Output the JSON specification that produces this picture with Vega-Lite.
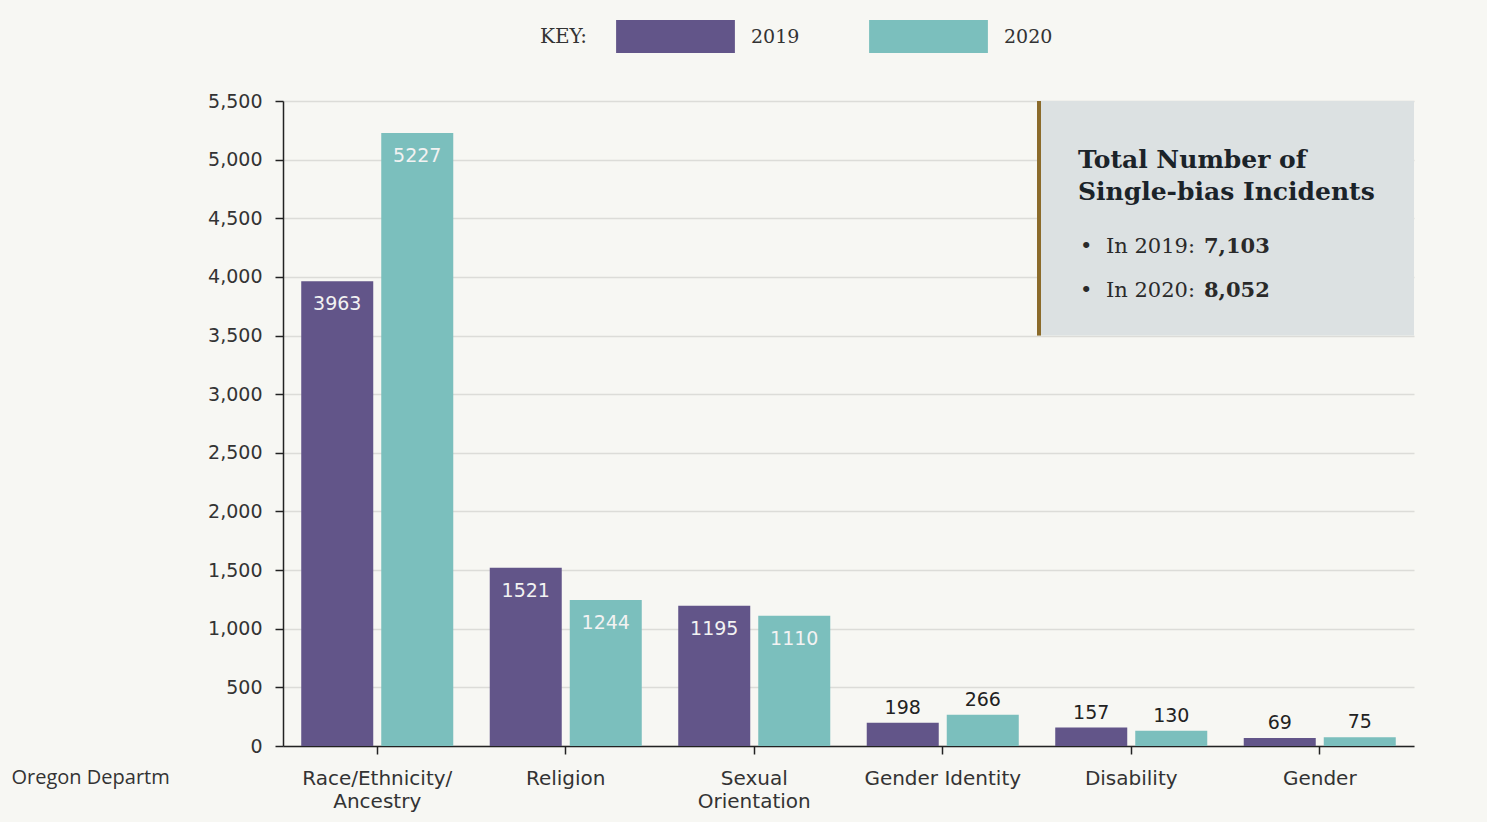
{
  "$schema": "https://vega.github.io/schema/vega-lite/v6.json",
  "width": 1131,
  "height": 645,
  "autosize": {"type": "none"},
  "padding": {"left": 283, "top": 101, "right": 73, "bottom": 76},
  "background": "#f7f7f3",
  "config": {"view": {"stroke": null}, "font": "DejaVu Sans"},
  "datasets": {
    "bars": [
      {"category": "Race/Ethnicity/ Ancestry", "year": "2019", "value": 3963},
      {"category": "Race/Ethnicity/ Ancestry", "year": "2020", "value": 5227},
      {"category": "Religion", "year": "2019", "value": 1521},
      {"category": "Religion", "year": "2020", "value": 1244},
      {"category": "Sexual Orientation", "year": "2019", "value": 1195},
      {"category": "Sexual Orientation", "year": "2020", "value": 1110},
      {"category": "Gender Identity", "year": "2019", "value": 198},
      {"category": "Gender Identity", "year": "2020", "value": 266},
      {"category": "Disability", "year": "2019", "value": 157},
      {"category": "Disability", "year": "2020", "value": 130},
      {"category": "Gender", "year": "2019", "value": 69},
      {"category": "Gender", "year": "2020", "value": 75}
    ],
    "box": [
      {"x1": "Disability", "x2": "Gender", "y1": 3500, "y2": 5500}
    ]
  },
  "layer": [
    {
      "data": {"name": "bars"},
      "mark": {"type": "bar"},
      "encoding": {
        "x": {
          "field": "category", "type": "nominal", "sort": null,
          "scale": {"domain": ["Race/Ethnicity/ Ancestry", "Religion", "Sexual Orientation", "Gender Identity", "Disability", "Gender"], "paddingInner": 0, "paddingOuter": 0},
          "axis": {
            "title": null, "labelAngle": 0, "grid": false,
            "domainColor": "#222", "domainWidth": 1.5, "tickColor": "#222", "tickWidth": 1.5, "tickSize": 8,
            "labelFontSize": 20, "labelColor": "#333", "labelPadding": 14, "labelLineHeight": 23,
            "labelExpr": "datum.label == 'Race/Ethnicity/ Ancestry' ? ['Race/Ethnicity/', 'Ancestry'] : datum.label == 'Sexual Orientation' ? ['Sexual', 'Orientation'] : datum.label"
          }
        },
        "xOffset": {"field": "year", "type": "nominal", "scale": {"paddingInner": 0.1, "paddingOuter": 0.228}},
        "y": {
          "field": "value", "type": "quantitative",
          "scale": {"domain": [0, 5500], "nice": false},
          "axis": {
            "values": [0, 500, 1000, 1500, 2000, 2500, 3000, 3500, 4000, 4500, 5000, 5500],
            "labelExpr": "format(datum.value, ',')", "grid": true, "gridColor": "#dcdcd8", "gridWidth": 1.5,
            "domainColor": "#222", "domainWidth": 1.5, "tickColor": "#222", "tickWidth": 1.5, "tickSize": 8,
            "labelFontSize": 19, "labelColor": "#333", "labelPadding": 13,
            "title": "Oregon Departm", "titleAngle": 0, "titleAlign": "left", "titleBaseline": "middle",
            "titleX": -272, "titleY": 676, "titleFont": "Open Sans", "titleFontSize": 20, "titleFontWeight": "normal", "titleColor": "#333"
          }
        },
        "color": {
          "field": "year", "type": "nominal",
          "scale": {"domain": ["2019", "2020"], "range": ["#625589", "#7bbfbd"]},
          "legend": {
            "orient": "none", "legendX": 257, "legendY": -81, "direction": "horizontal",
            "title": "KEY:", "titleOrient": "left", "titleFont": "DejaVu Serif", "titleFontSize": 20,
            "titleFontWeight": "normal", "titleColor": "#333", "titlePadding": 71, "titleBaseline": "middle",
            "symbolType": "M-3.6,-1H3.6V1H-3.6Z", "symbolSize": 1089, "symbolStrokeWidth": 0, "symbolOpacity": 1,
            "labelFont": "DejaVu Serif", "labelFontSize": 19, "labelColor": "#333", "labelOffset": 59,
            "columnPadding": 69
          }
        }
      }
    },
    {
      "data": {"name": "box"},
      "mark": {"type": "rect", "color": "#dce1e2"},
      "encoding": {
        "x": {"field": "x1", "type": "nominal", "bandPosition": 0},
        "x2": {"field": "x2", "bandPosition": 1},
        "y": {"field": "y1", "type": "quantitative"},
        "y2": {"field": "y2"}
      }
    },
    {
      "data": {"name": "box"},
      "mark": {"type": "rule", "color": "#8b6b2b", "strokeWidth": 4, "xOffset": 2},
      "encoding": {
        "x": {"field": "x1", "type": "nominal", "bandPosition": 0},
        "y": {"field": "y1", "type": "quantitative"},
        "y2": {"field": "y2"}
      }
    },
    {
      "data": {"name": "bars"},
      "transform": [{"filter": "datum.value >= 1000"}],
      "mark": {"type": "text", "baseline": "middle", "dy": 23, "fontSize": 19, "color": "#f2f2f2"},
      "encoding": {
        "x": {"field": "category", "type": "nominal", "sort": null},
        "xOffset": {"field": "year", "type": "nominal"},
        "y": {"field": "value", "type": "quantitative"},
        "text": {"field": "value", "type": "quantitative", "format": "d"}
      }
    },
    {
      "data": {"name": "bars"},
      "transform": [{"filter": "datum.value < 1000"}],
      "mark": {"type": "text", "baseline": "middle", "dy": -15, "fontSize": 19, "color": "#222"},
      "encoding": {
        "x": {"field": "category", "type": "nominal", "sort": null},
        "xOffset": {"field": "year", "type": "nominal"},
        "y": {"field": "value", "type": "quantitative"},
        "text": {"field": "value", "type": "quantitative", "format": "d"}
      }
    },
    {
      "data": {"name": "box"},
      "mark": {"type": "text", "align": "left", "baseline": "alphabetic", "dx": 41, "font": "DejaVu Serif", "fontWeight": "bold", "fontSize": 25, "color": "#1b2329", "lineHeight": 32, "text": ["Total Number of", "Single-bias Incidents"]},
      "encoding": {
        "x": {"field": "x1", "type": "nominal", "bandPosition": 0},
        "y": {"datum": 4929, "type": "quantitative"}
      }
    },
    {
      "data": {"name": "box"},
      "mark": {"type": "text", "align": "left", "baseline": "alphabetic", "dx": 43, "font": "DejaVu Serif", "fontSize": 21, "color": "#2a2a2a", "lineHeight": 44, "text": ["•", "•"]},
      "encoding": {
        "x": {"field": "x1", "type": "nominal", "bandPosition": 0},
        "y": {"datum": 4204, "type": "quantitative"}
      }
    },
    {
      "data": {"name": "box"},
      "mark": {"type": "text", "align": "left", "baseline": "alphabetic", "dx": 69, "font": "DejaVu Serif", "fontSize": 21, "color": "#2a2a2a", "lineHeight": 44, "text": ["In 2019:", "In 2020:"]},
      "encoding": {
        "x": {"field": "x1", "type": "nominal", "bandPosition": 0},
        "y": {"datum": 4204, "type": "quantitative"}
      }
    },
    {
      "data": {"name": "box"},
      "mark": {"type": "text", "align": "left", "baseline": "alphabetic", "dx": 167, "font": "DejaVu Serif", "fontWeight": "bold", "fontSize": 21, "color": "#2a2a2a", "lineHeight": 44, "text": ["7,103", "8,052"]},
      "encoding": {
        "x": {"field": "x1", "type": "nominal", "bandPosition": 0},
        "y": {"datum": 4204, "type": "quantitative"}
      }
    }
  ]
}
